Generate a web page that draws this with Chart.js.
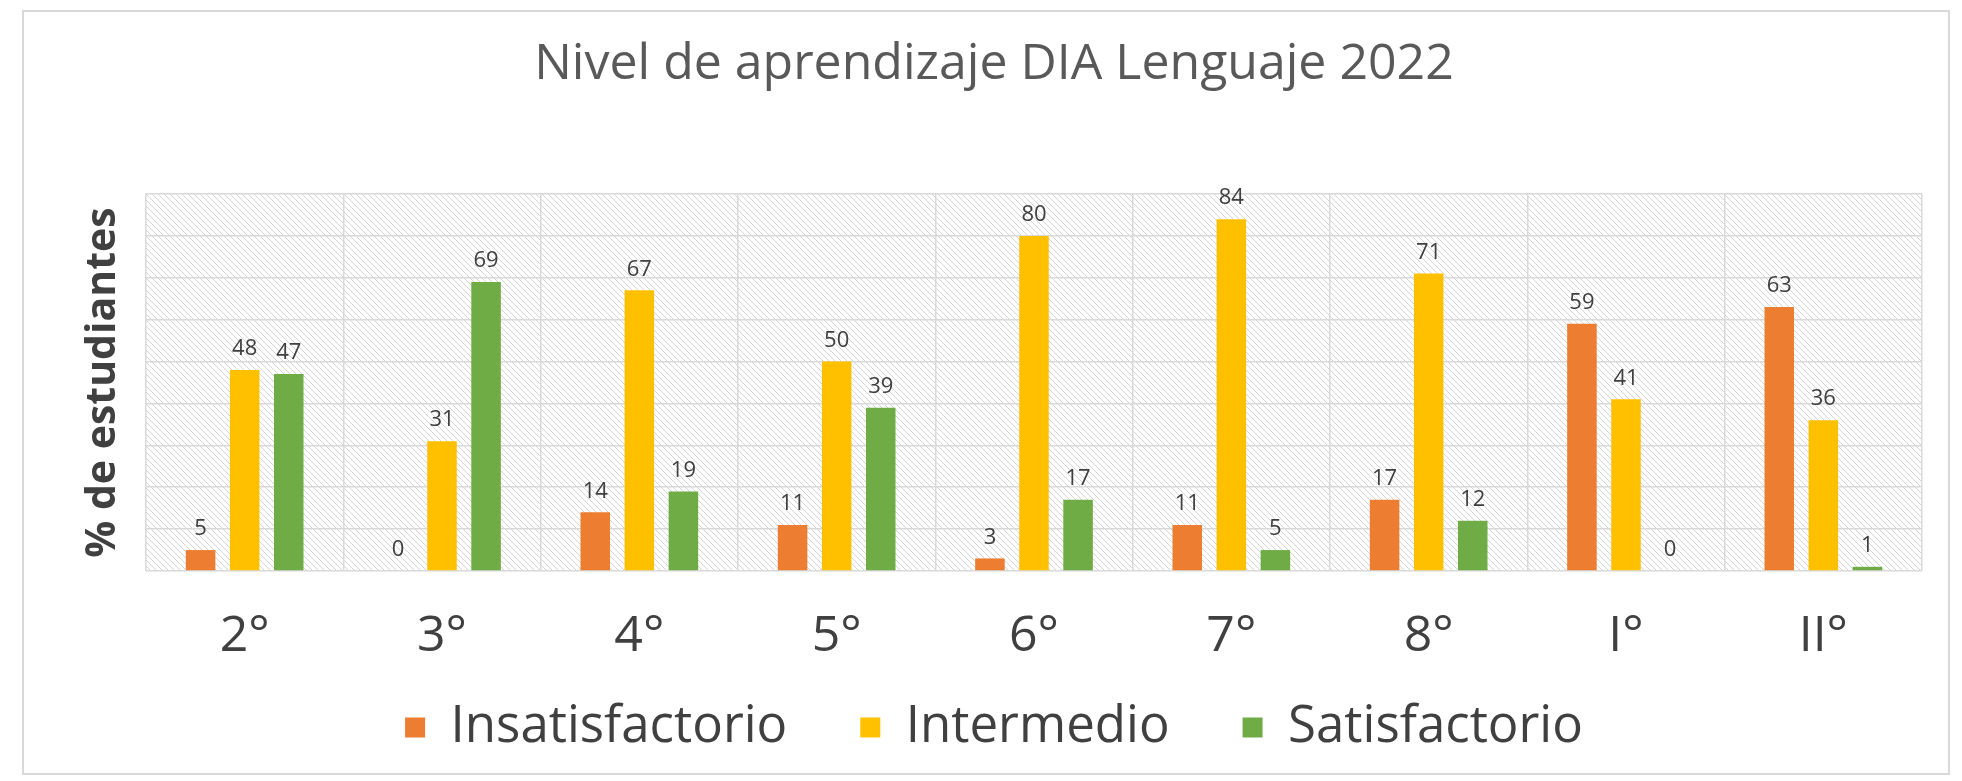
<!DOCTYPE html>
<html>
<head>
<meta charset="utf-8">
<script src="https://cdn.jsdelivr.net/npm/chart.js@4.4.0/dist/chart.umd.min.js"></script>
<style>
  html, body { margin: 0; padding: 0; background: #fff; }
  #wrap { position: relative; width: 1962px; height: 781px; }
  #frame { position: absolute; left: 22px; top: 10px; width: 1928px; height: 765px; border: 2px solid #d9d9d9; box-sizing: border-box; }
  canvas { position: absolute; left: 0; top: 0; }
</style>
</head>
<body>
<div id="wrap">
  <div id="frame"></div>
  <canvas id="myChart" width="1962" height="781"></canvas>
</div>
<script>
const grades = ["2°", "3°", "4°", "5°", "6°", "7°", "8°", "I°", "II°"];
const insatisfactorio = [5, 0, 14, 11, 3, 11, 17, 59, 63];
const intermedio = [48, 31, 67, 50, 80, 84, 71, 41, 36];
const satisfactorio = [47, 69, 19, 39, 17, 5, 12, 0, 1];

const font = "'Open Sans', 'Noto Sans', sans-serif";

// diagonal hatch for the plot area
const hatch = document.createElement("canvas");
hatch.width = 6;
hatch.height = 6;
const hctx = hatch.getContext("2d");
hctx.fillStyle = "#ffffff";
hctx.fillRect(0, 0, 6, 6);
hctx.strokeStyle = "#d4d4d4";
hctx.lineWidth = 1;
hctx.beginPath();
hctx.moveTo(-1, -1); hctx.lineTo(7, 7);
hctx.moveTo(-1, 5); hctx.lineTo(1, 7);
hctx.moveTo(5, -1); hctx.lineTo(7, 1);
hctx.stroke();

const plotBackground = {
  id: "plotBackground",
  beforeDraw(chart) {
    const { ctx, chartArea } = chart;
    ctx.save();
    ctx.fillStyle = ctx.createPattern(hatch, "repeat");
    ctx.fillRect(chartArea.left, chartArea.top, chartArea.right - chartArea.left, chartArea.bottom - chartArea.top);
    ctx.restore();
  },
};

const valueLabels = {
  id: "valueLabels",
  afterDatasetsDraw(chart) {
    const ctx = chart.ctx;
    ctx.save();
    ctx.font = "22px " + font;
    ctx.fillStyle = "#404040";
    ctx.textAlign = "center";
    ctx.textBaseline = "bottom";
    chart.data.datasets.forEach((ds, i) => {
      chart.getDatasetMeta(i).data.forEach((bar, j) => {
        ctx.fillText(ds.data[j], bar.x, bar.y - 10);
      });
    });
    ctx.restore();
  },
};

const ctx = document.getElementById("myChart").getContext("2d");
const myChart = new Chart(ctx, {
  type: "bar",
  data: {
    labels: grades,
    datasets: [
      { label: "Insatisfactorio", data: insatisfactorio, backgroundColor: "#ED7D31" },
      { label: "Intermedio", data: intermedio, backgroundColor: "#FFC000" },
      { label: "Satisfactorio", data: satisfactorio, backgroundColor: "#6FAC46" },
    ],
  },
  options: {
    responsive: false,
    devicePixelRatio: 1,
    animation: false,
    categoryPercentage: 0.67,
    barPercentage: 0.67,
    layout: { padding: { left: 66, right: 40, top: 10, bottom: 18 } },
    plugins: {
      title: {
        display: true,
        text: "Nivel de aprendizaje DIA Lenguaje 2022",
        color: "#595959",
        font: { family: font, size: 50, weight: "normal" },
        padding: { top: 25, bottom: 99 },
      },
      legend: {
        position: "bottom",
        labels: {
          color: "#404040",
          font: { family: font, size: 51 },
          boxWidth: 20,
          boxHeight: 20,
          padding: 20,
          // wider gap between items without making the legend taller
          generateLabels: (chart) =>
            Chart.defaults.plugins.legend.labels.generateLabels(chart).map((item, i, all) => {
              if (i < all.length - 1) item.text = item.text + "    ";
              return item;
            }),
        },
      },
      tooltip: { enabled: false },
    },
    scales: {
      x: {
        grid: { color: "#d9d9d9", lineWidth: 1.5, drawTicks: false },
        border: { display: false },
        ticks: { color: "#404040", font: { family: font, size: 50 }, padding: 36 },
        afterFit: (s) => { s.height = 781 - 18 - s.chart.legend.height - 571; },
      },
      y: {
        min: 0,
        max: 90,
        ticks: { display: false, stepSize: 10 },
        grid: { color: "#d9d9d9", lineWidth: 1.5, drawTicks: false },
        border: { display: false },
        title: {
          display: true,
          text: "% de estudiantes",
          color: "#404040",
          font: { family: font, size: 41, weight: "bold" },
          padding: { top: 13, bottom: 0 },
        },
        afterFit: (s) => { s.width = 146 - 66; },
      },
    },
  },
  plugins: [plotBackground, valueLabels],
});
</script>
</body>
</html>
